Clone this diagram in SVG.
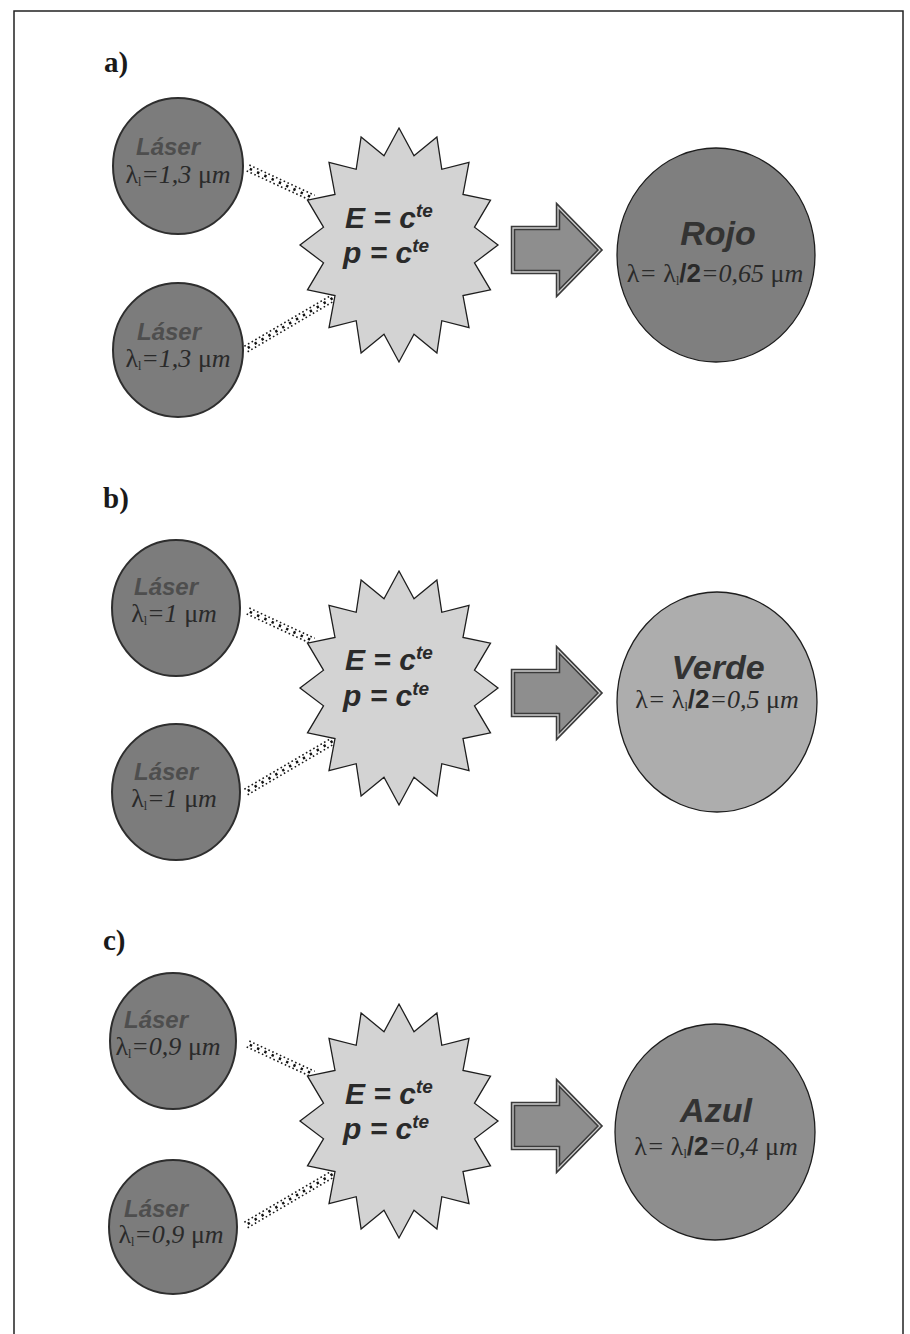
<svg xmlns="http://www.w3.org/2000/svg" xmlns:xlink="http://www.w3.org/1999/xlink" width="910" height="1334" viewBox="0 0 910 1334">
<style>
.frame{fill:none;stroke:#222;stroke-width:1.5}
.lbl{font-family:"Liberation Serif",serif;font-weight:bold;font-size:29px;fill:#1a1a1a}
.laser{fill:#7c7c7c;stroke:#2e2e2e;stroke-width:2}
.lasername{font-family:"Liberation Sans",Arial,sans-serif;font-weight:bold;font-style:italic;font-size:24px;fill:#4e4e4e;text-anchor:middle}
.lam{font-family:"Liberation Serif",serif;font-style:italic;font-size:26px;fill:#2a2a2a;text-anchor:middle}
.up{font-style:normal}
.sub{font-size:12px;font-style:normal}
.b2{font-family:"Liberation Sans",Arial,sans-serif;font-weight:bold;font-style:normal}
.star{fill:#d3d3d3;stroke:#1e1e1e;stroke-width:1.3;stroke-linejoin:miter}
.eq{font-family:"Liberation Sans",Arial,sans-serif;font-weight:bold;font-style:italic;font-size:30px;fill:#2a2a2a}
.sup{font-size:19px}
.arrow{fill:#8e8e8e;stroke:#3a3a3a;stroke-width:4.5;stroke-linejoin:miter}
.arrowin{fill:none;stroke:#cfcfcf;stroke-width:1.3;stroke-linejoin:miter}
.res{stroke:#1e1e1e;stroke-width:1.3}
.name{font-family:"Liberation Sans",Arial,sans-serif;font-weight:bold;font-style:italic;font-size:34px;fill:#333;text-anchor:middle}
.rlam{font-family:"Liberation Serif",serif;font-style:italic;font-size:26px;fill:#2a2a2a;text-anchor:middle}
.dot{stroke:#1a1a1a;stroke-width:1.6;stroke-dasharray:1.6 2.6;fill:none}
.dotm{stroke:#111;stroke-width:2.6;stroke-dasharray:2.4 5.6;fill:none}
</style>
<defs>
<polygon id="starShape" points="0,-117 15,-89.3 37.9,-108.1 42.8,-75.7 70,-82.7 64,-50.6 91.5,-44.8 75.5,-17.8 99,0 75.5,17.8 91.5,44.8 64,50.6 70,82.7 42.8,75.7 37.9,108.1 15,89.3 0,117 -15,89.3 -37.9,108.1 -42.8,75.7 -70,82.7 -64,50.6 -91.5,44.8 -75.5,17.8 -99,0 -75.5,-17.8 -91.5,-44.8 -64,-50.6 -70,-82.7 -42.8,-75.7 -37.9,-108.1 -15,-89.3"/>
<polygon id="arrowShape" points="0,-22 45,-22 45,-43 87,0 45,43 45,22 0,22"/>
<g id="bandUp">
<line class="dot" x1="0" y1="-3.2" x2="72" y2="-3.2"/>
<line class="dotm" x1="2" y1="0" x2="72" y2="0"/>
<line class="dot" x1="0" y1="3.2" x2="72" y2="3.2"/>
</g>
<g id="bandLo">
<line class="dot" x1="0" y1="-3.2" x2="101" y2="-3.2"/>
<line class="dotm" x1="2" y1="0" x2="101" y2="0"/>
<line class="dot" x1="0" y1="3.2" x2="101" y2="3.2"/>
</g>
</defs>
<rect width="910" height="1334" fill="#fff"/>
<rect class="frame" x="14" y="11" width="889" height="1334"/>

<text class="lbl" x="104" y="72">a)</text>
<text class="lbl" x="103" y="508">b)</text>
<text class="lbl" x="103" y="950">c)</text>

<g id="connectors">
<use xlink:href="#bandUp" transform="translate(248,168) rotate(24.8)"/>
<use xlink:href="#bandLo" transform="translate(246,349) rotate(-30.4)"/>
<use xlink:href="#bandUp" transform="translate(248,611) rotate(24.8)"/>
<use xlink:href="#bandLo" transform="translate(246,792) rotate(-30.4)"/>
<use xlink:href="#bandUp" transform="translate(248,1044) rotate(24.8)"/>
<use xlink:href="#bandLo" transform="translate(246,1225) rotate(-30.4)"/>
</g>

<!-- Panel a -->
<g id="laser-a1">
<ellipse class="laser" cx="178" cy="166" rx="65" ry="68"/>
<text class="lasername" x="168" y="155">Láser</text>
<text class="lam" x="178" y="183"><tspan class="up">λ</tspan><tspan class="sub" dy="3">l</tspan><tspan dy="-3">=1,3 </tspan><tspan class="up">μ</tspan>m</text>
</g>
<g id="laser-a2">
<ellipse class="laser" cx="178" cy="350" rx="65" ry="67"/>
<text class="lasername" x="169" y="340">Láser</text>
<text class="lam" x="178" y="367"><tspan class="up">λ</tspan><tspan class="sub" dy="3">l</tspan><tspan dy="-3">=1,3 </tspan><tspan class="up">μ</tspan>m</text>
</g>
<g id="star-a">
<use xlink:href="#starShape" class="star" transform="translate(399,245)"/>
<text class="eq" x="345" y="228">E = c<tspan class="sup" dy="-11">te</tspan></text>
<text class="eq" x="343" y="263">p = c<tspan class="sup" dy="-11">te</tspan></text>
</g>
<g id="arrow-a">
<use xlink:href="#arrowShape" class="arrow" transform="translate(513,250)"/>
<use xlink:href="#arrowShape" class="arrowin" transform="translate(513,250)"/>
</g>
<g id="rojo">
<ellipse class="res" cx="716" cy="255" rx="99" ry="107" fill="#7f7f7f"/>
<text class="name" x="718" y="245">Rojo</text>
<text class="rlam" x="715" y="282"><tspan class="up">λ</tspan>= <tspan class="up">λ</tspan><tspan class="sub" dy="3">l</tspan><tspan class="b2" dy="-3">/2</tspan>=0,65 <tspan class="up">μ</tspan>m</text>
</g>

<!-- Panel b -->
<g id="laser-b1">
<ellipse class="laser" cx="176" cy="608" rx="64" ry="68"/>
<text class="lasername" x="166" y="595">Láser</text>
<text class="lam" x="174" y="622"><tspan class="up">λ</tspan><tspan class="sub" dy="3">l</tspan><tspan dy="-3">=1 </tspan><tspan class="up">μ</tspan>m</text>
</g>
<g id="laser-b2">
<ellipse class="laser" cx="176" cy="792" rx="64" ry="68"/>
<text class="lasername" x="166" y="780">Láser</text>
<text class="lam" x="174" y="807"><tspan class="up">λ</tspan><tspan class="sub" dy="3">l</tspan><tspan dy="-3">=1 </tspan><tspan class="up">μ</tspan>m</text>
</g>
<g id="star-b">
<use xlink:href="#starShape" class="star" transform="translate(399,688)"/>
<text class="eq" x="345" y="670">E = c<tspan class="sup" dy="-11">te</tspan></text>
<text class="eq" x="343" y="706">p = c<tspan class="sup" dy="-11">te</tspan></text>
</g>
<g id="arrow-b">
<use xlink:href="#arrowShape" class="arrow" transform="translate(513,693)"/>
<use xlink:href="#arrowShape" class="arrowin" transform="translate(513,693)"/>
</g>
<g id="verde">
<ellipse class="res" cx="717" cy="702" rx="100" ry="110" fill="#adadad"/>
<text class="name" x="718" y="679">Verde</text>
<text class="rlam" x="717" y="708"><tspan class="up">λ</tspan>= <tspan class="up">λ</tspan><tspan class="sub" dy="3">l</tspan><tspan class="b2" dy="-3">/2</tspan>=0,5 <tspan class="up">μ</tspan>m</text>
</g>

<!-- Panel c -->
<g id="laser-c1">
<ellipse class="laser" cx="173" cy="1041" rx="63" ry="68"/>
<text class="lasername" x="156" y="1028">Láser</text>
<text class="lam" x="168" y="1055"><tspan class="up">λ</tspan><tspan class="sub" dy="3">l</tspan><tspan dy="-3">=0,9 </tspan><tspan class="up">μ</tspan>m</text>
</g>
<g id="laser-c2">
<ellipse class="laser" cx="173" cy="1227" rx="64" ry="67"/>
<text class="lasername" x="156" y="1217">Láser</text>
<text class="lam" x="171" y="1243"><tspan class="up">λ</tspan><tspan class="sub" dy="3">l</tspan><tspan dy="-3">=0,9 </tspan><tspan class="up">μ</tspan>m</text>
</g>
<g id="star-c">
<use xlink:href="#starShape" class="star" transform="translate(399,1121)"/>
<text class="eq" x="345" y="1104">E = c<tspan class="sup" dy="-11">te</tspan></text>
<text class="eq" x="343" y="1139">p = c<tspan class="sup" dy="-11">te</tspan></text>
</g>
<g id="arrow-c">
<use xlink:href="#arrowShape" class="arrow" transform="translate(513,1126)"/>
<use xlink:href="#arrowShape" class="arrowin" transform="translate(513,1126)"/>
</g>
<g id="azul">
<ellipse class="res" cx="715" cy="1132" rx="100" ry="108" fill="#8e8e8e"/>
<text class="name" x="716" y="1122">Azul</text>
<text class="rlam" x="716" y="1155"><tspan class="up">λ</tspan>= <tspan class="up">λ</tspan><tspan class="sub" dy="3">l</tspan><tspan class="b2" dy="-3">/2</tspan>=0,4 <tspan class="up">μ</tspan>m</text>
</g>
</svg>
